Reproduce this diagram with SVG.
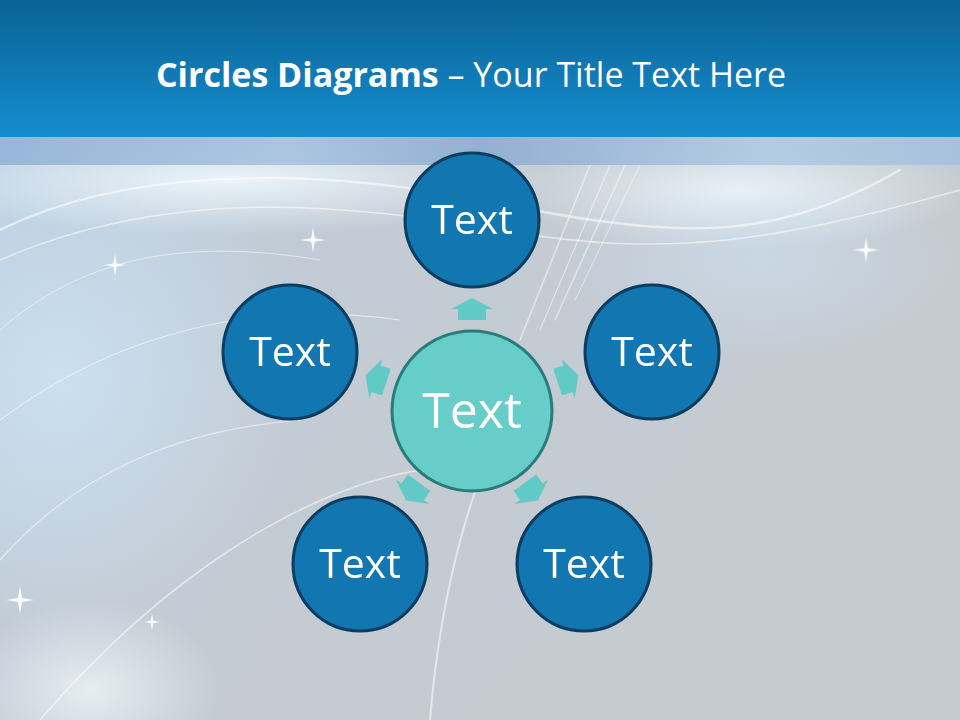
<svg xmlns="http://www.w3.org/2000/svg" width="960" height="720" viewBox="0 0 960 720">
<defs>
<linearGradient id="hdr" x1="0" y1="0" x2="0" y2="1">
<stop offset="0" stop-color="#0b6396"/>
<stop offset="1" stop-color="#158dcf"/>
</linearGradient>
<linearGradient id="bg" x1="0" y1="0" x2="1" y2="0.6">
<stop offset="0" stop-color="#b9cde0"/>
<stop offset="0.45" stop-color="#c3cbd4"/>
<stop offset="1" stop-color="#c5cbd0"/>
</linearGradient>
<radialGradient id="glowBlue" cx="0.5" cy="0.5" r="0.5">
<stop offset="0" stop-color="#cfe7fa" stop-opacity="0.9"/>
<stop offset="1" stop-color="#cfe7fa" stop-opacity="0"/>
</radialGradient>
<radialGradient id="glowW" cx="0.5" cy="0.5" r="0.5">
<stop offset="0" stop-color="#f2fbff" stop-opacity="0.95"/>
<stop offset="1" stop-color="#f2fbff" stop-opacity="0"/>
</radialGradient>
<linearGradient id="band" x1="0" y1="0" x2="1" y2="0">
<stop offset="0" stop-color="#93b3d6"/>
<stop offset="0.3" stop-color="#a7c3e0"/>
<stop offset="0.5" stop-color="#8eadd2"/>
<stop offset="0.8" stop-color="#b0cae4"/>
<stop offset="1" stop-color="#a4c0de"/>
</linearGradient>
<path id="arrow" d="M0,-112 L21,-101 L14,-101 L14,-90 L-14,-90 L-14,-101 L-21,-101 Z"/>
<path id="star" d="M0,-14 L2,-2 L14,0 L2,2 L0,14 L-2,2 L-14,0 L-2,-2 Z"/>
<style>
.outer{fill:#1276b1;stroke:#0c3d60;stroke-width:3}
.center{fill:#66cdc9;stroke:#2a7c7a;stroke-width:3}
.lbl{font-family:"Open Sans","Noto Sans",sans-serif;fill:#ffffff;text-anchor:middle}
.arr{fill:#62cac6}
.streak{fill:none;stroke:#ffffff;stroke-linecap:round}
.star{fill:#ffffff}
</style>
</defs>
<rect x="0" y="0" width="960" height="720" fill="url(#bg)"/>
<ellipse cx="60" cy="380" rx="240" ry="260" fill="url(#glowBlue)" opacity="0.8"/>
<ellipse cx="230" cy="180" rx="320" ry="55" fill="url(#glowW)" opacity="0.9"/>
<ellipse cx="740" cy="190" rx="230" ry="60" fill="url(#glowW)" opacity="0.85"/>
<ellipse cx="90" cy="690" rx="130" ry="90" fill="url(#glowW)" opacity="0.75"/>
<ellipse cx="760" cy="260" rx="200" ry="100" fill="url(#glowBlue)" opacity="0.5"/>
<g opacity="0.55">
<path class="streak" stroke-width="2.5" d="M0,230 C120,170 300,165 480,200 S760,250 900,170"/>
<path class="streak" stroke-width="1.5" d="M0,260 C160,190 330,200 500,230 S780,240 960,190"/>
<path class="streak" stroke-width="1.2" d="M0,420 C120,330 260,300 400,320"/>
<path class="streak" stroke-width="1.5" d="M40,720 C160,580 300,490 420,470"/>
<path class="streak" stroke-width="2" d="M430,720 C440,600 470,470 520,400"/>
<path class="streak" stroke-width="1.2" d="M0,560 C80,470 180,430 300,420"/>
<path class="streak" stroke-width="1" d="M0,330 C90,250 200,240 320,260"/>
</g>
<g opacity="0.5">
<path class="streak" stroke-width="1.5" d="M520,340 L590,165"/>
<path class="streak" stroke-width="1.2" d="M540,330 L610,165"/>
<path class="streak" stroke-width="1.5" d="M555,320 L625,165"/>
<path class="streak" stroke-width="1" d="M575,300 L640,165"/>
</g>
<g opacity="0.9">
<use href="#star" class="star" transform="translate(313,240) scale(0.9)"/>
<use href="#star" class="star" transform="translate(866,250) scale(0.9)"/>
<use href="#star" class="star" transform="translate(115,265) scale(0.8)" fill="#bfe6f5"/>
<use href="#star" class="star" transform="translate(20,600) scale(1)"/>
<use href="#star" class="star" transform="translate(152,622) scale(0.6)"/>
</g>
<rect x="0" y="137" width="960" height="28" fill="url(#band)" opacity="0.9"/>
<rect x="0" y="0" width="960" height="137" fill="url(#hdr)"/>
<text x="471" y="87" font-family="'Open Sans','Noto Sans',sans-serif" font-size="34" fill="#ffffff" text-anchor="middle"><tspan font-weight="bold">Circles Diagrams</tspan> – Your Title Text Here</text>
<g id="connectors">
<use href="#arrow" class="arr" transform="translate(472,410)"/>
<use href="#arrow" class="arr" transform="translate(472,410) rotate(72)"/>
<use href="#arrow" class="arr" transform="translate(472,410) rotate(144)"/>
<use href="#arrow" class="arr" transform="translate(472,410) rotate(-144)"/>
<use href="#arrow" class="arr" transform="translate(472,410) rotate(-72)"/>
</g>
<g id="node-center">
<circle class="center" cx="472" cy="411" r="80"/>
<text class="lbl" x="472" y="428" font-size="50">Text</text>
</g>
<g id="node-top">
<circle class="outer" cx="472" cy="220" r="67"/>
<text class="lbl" x="472" y="234" font-size="41">Text</text>
</g>
<g id="node-left">
<circle class="outer" cx="290" cy="352" r="67"/>
<text class="lbl" x="290" y="366" font-size="41">Text</text>
</g>
<g id="node-right">
<circle class="outer" cx="652" cy="352" r="67"/>
<text class="lbl" x="652" y="366" font-size="41">Text</text>
</g>
<g id="node-bottom-left">
<circle class="outer" cx="360" cy="564" r="67"/>
<text class="lbl" x="360" y="578" font-size="41">Text</text>
</g>
<g id="node-bottom-right">
<circle class="outer" cx="584" cy="564" r="67"/>
<text class="lbl" x="584" y="578" font-size="41">Text</text>
</g>
</svg>
